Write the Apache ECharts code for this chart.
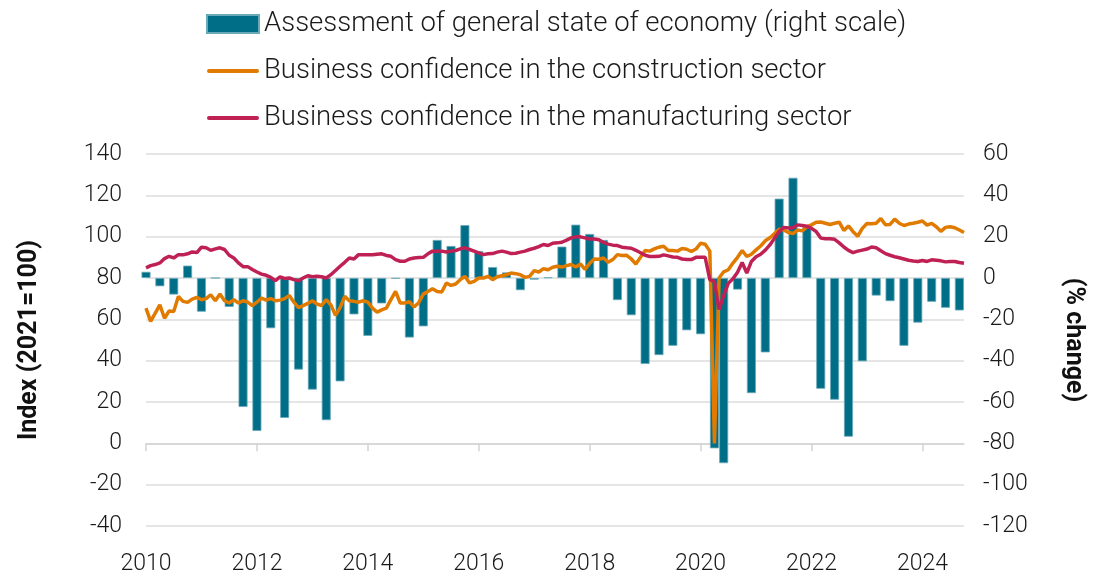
<!DOCTYPE html>
<html>
<head>
<meta charset="utf-8">
<script src="https://cdn.jsdelivr.net/npm/echarts@6/dist/echarts.min.js"></script>
<style>
  html, body { margin: 0; padding: 0; background: #fff; }
  #chart { width: 1094px; height: 576px; }
</style>
</head>
<body>
<div id="chart"></div>
<script>
// monthly series, first point = Jan 2010
const startYear = 2010
const construction = [
  65.4, 59, 63, 67, 60.5, 64, 63.8, 71.1, 68.7, 68.2, 69.8, 70.6,
  69.5, 70, 71.9, 69, 72.2, 69, 67.9, 69.5, 67.9, 69, 68.3, 66.6,
  68.3, 70.3, 69.3, 70, 69, 69.3, 70, 71.6, 68.3, 65.7, 66.6, 67.7,
  69, 67.4, 66.7, 69.5, 67, 61.9, 65.7, 71.1, 69, 68.7, 68.3, 69,
  68.3, 65.4, 63.5, 64.6, 65.4, 69.5, 73.5, 67.9, 67.9, 68.5, 66, 68,
  72.2, 73.5, 74.8, 73.5, 73.2, 77.6, 76.4, 77.1, 79.2, 80.8, 77.6, 78.4,
  80, 80, 80.8, 79.2, 80.6, 81.1, 81.6, 82.4, 82.1, 81.6, 80.3, 80.8,
  83.6, 82.9, 84.5, 84, 85.2, 85.7, 85.3, 86, 86.5, 85.3, 86.8, 84.2,
  87.1, 89.2, 89.1, 89.7, 87.6, 88.9, 91.3, 90.9, 91, 89.2, 86.8, 90,
  93.3, 93, 94.1, 94.9, 95.4, 93.3, 93.3, 93, 94.3, 93.9, 92.8, 94,
  96.8, 96.3, 93, 0, 80, 83, 84, 87.2, 90, 93.3, 90.4, 91.5,
  93.6, 95.5, 98, 99.5, 101.5, 103.6, 103.2, 102, 101.5, 103.2, 102.8, 104.8,
  105.7, 107, 107.1, 106.5, 105.9, 106.5, 107, 103, 105.2, 102.4, 100.2, 104,
  106.4, 106.2, 106.5, 108.8, 105.8, 105.9, 108.5, 106.5, 105.4, 106.1, 106.5, 107,
  107.6, 105.6, 106.4, 104.8, 102.6, 104.5, 104.8, 104.3, 103.2, 102
]
const manufacturing = [
  84.9, 86.0, 86.5, 87.3, 89.4, 90.5, 89.7, 91.3, 91.2, 91.7, 92.6, 92.3,
  94.9, 94.6, 93.4, 94.1, 94.6, 93.8, 91.0, 89.7, 87.3, 85.5, 85.5, 84.1,
  82.9, 81.9, 81.3, 80.3, 78.7, 80.5, 79.8, 80, 79.2, 78.7, 80, 81.1,
  80.6, 80.8, 80.6, 80, 81.6, 83.6, 85.7, 87.6, 89.7, 89.2, 91.3, 91.3,
  91.2, 91.2, 91.5, 91.7, 90.9, 90.5, 88.9, 88.1, 88.1, 89.2, 89.7, 89.9,
  90.0, 91.7, 93, 93, 93, 92.6, 93, 93.3, 94.1, 94.6, 93.8, 93,
  92.2, 91.3, 91.7, 91.8, 92.5, 93, 92.5, 91.8, 92, 92.5, 93, 93.8,
  94.4, 95.2, 96.2, 95.7, 96.8, 97, 97.3, 98.3, 99.4, 99.9, 99.9, 99.4,
  98.9, 98.9, 98.5, 97.2, 96.4, 95.9, 95.7, 94.9, 94.6, 94.4, 93.4, 92.2,
  91, 90.4, 90.4, 90.5, 91.2, 90.7, 90.2, 90, 89.2, 88.9, 88.9, 90,
  90, 90, 79.2, 78.2, 64.8, 71.5, 77.5, 79.6, 82.8, 87.5, 82.4, 88,
  90.3, 91.5, 93.5, 96, 99.3, 102.5, 104.5, 104.2, 104.3, 105.7, 105.4, 105,
  104, 102.5, 99.3, 99, 99, 98.7, 97, 95, 93.4, 92.3, 93, 93.5,
  94, 95, 94.6, 93.2, 91.8, 91, 90.3, 89.8, 89.2, 88.6, 88.2, 88,
  88.5, 88, 88.8, 88.6, 88.3, 87.8, 88, 88, 87.5, 87.1
]
// quarterly, Q1 2010 .. Q4 2024 (% change, right scale)
const economy = [
  3, -4, -8, 6,
  -16.3, 0, -14, -62.4,
  -74, -24.3, -67.7, -44.3,
  -54, -68.8, -50, -17.6,
  -28, -12.3, -0.3, -28.8,
  -23.4, 18.4, 15.5, 25.6,
  13, 5.3, 2.7, -5.9,
  -0.8, 0.3, 15.2, 25.8,
  21.3, 18.4, -10.7, -18,
  -41.6, -37.3, -32.8, -25.3,
  -27.2, -82.4, -89.6, -5.6,
  -55.7, -36, 38.4, 48.5,
  24.5, -53.6, -58.9, -76.8,
  -40.3, -8.5, -11.2, -32.8,
  -21.6, -11.5, -14.4, -15.7
]
// from Q3 2020 the source plots the bars one month earlier
const barShiftFrom = 42
const yearLabels = [2010, 2012, 2014, 2016, 2018, 2020, 2022, 2024]

const names = [
  'Assessment of general state of economy (right scale)',
  'Business confidence in the construction sector',
  'Business confidence in the manufacturing sector'
]
const font = 'Roboto, sans-serif'
const lineIcon = 'path://M2,0L50,0A2,2,0,0,1,50,4L2,4A2,2,0,0,1,2,0Z'

const constructionData = construction.map((v, i) => [startYear + i / 12, v])
const manufacturingData = manufacturing.map((v, i) => [startYear + i / 12, v])
const economyData = economy.map((v, q) => {
  let month = q * 3 - (q >= barShiftFrom ? 1 : 0)
  return [startYear + month / 12, v]
})

let myChart = echarts.init(document.getElementById('chart'))
let option = {
  animation: false,
  textStyle: { fontFamily: font },
  legend: {
    orient: 'vertical',
    left: 201,
    top: 5,
    itemWidth: 52,
    itemHeight: 18,
    itemGap: 19,
    textStyle: { fontFamily: font, fontSize: 27.5, fontWeight: 300, color: '#1a1a1a' },
    data: [
      { name: names[0], icon: 'rect' },
      { name: names[1], icon: lineIcon },
      { name: names[2], icon: lineIcon }
    ]
  },
  grid: { left: 146, right: 128, top: 154, bottom: 48 },
  xAxis: [
    {
      type: 'value',
      min: 2010,
      max: 2024.75,
      interval: 2,
      position: 'bottom',
      axisLine: { show: false, onZero: false },
      axisTick: { show: false },
      splitLine: { show: false },
      axisLabel: {
        customValues: yearLabels,
        formatter: v => String(v),
        margin: 27,
        fontSize: 23,
        fontWeight: 300,
        color: '#1a1a1a',
        fontFamily: font
      }
    },
    {
      type: 'value',
      min: 2010,
      max: 2024.75,
      interval: 2,
      position: 'top',
      axisLine: {
        show: true,
        onZero: true,
        onZeroAxisIndex: 0,
        lineStyle: { color: '#d4d4d4', width: 1.5 }
      },
      axisTick: {
        show: true,
        inside: true,
        length: 8,
        customValues: yearLabels,
        lineStyle: { color: '#d4d4d4', width: 1.5 }
      },
      axisLabel: { show: false },
      splitLine: { show: false }
    }
  ],
  yAxis: [
    {
      type: 'value',
      min: -40,
      max: 140,
      interval: 20,
      name: 'Index (2021=100)',
      nameLocation: 'middle',
      nameRotate: 90,
      nameGap: 104,
      nameTextStyle: { fontFamily: font, fontSize: 25, fontWeight: 'bold', color: '#111' },
      axisLine: { show: false },
      axisTick: { show: false },
      axisLabel: { margin: 24, fontSize: 23, fontWeight: 300, color: '#1a1a1a', fontFamily: font },
      splitLine: { lineStyle: { color: '#dcdcdc', width: 1.5 } }
    },
    {
      type: 'value',
      min: -120,
      max: 60,
      interval: 20,
      name: '(% change)',
      nameLocation: 'middle',
      nameRotate: -90,
      nameGap: 97,
      nameTextStyle: { fontFamily: font, fontSize: 25, fontWeight: 'bold', color: '#111' },
      axisLine: { show: false },
      axisTick: { show: false },
      axisLabel: { margin: 19, fontSize: 23, fontWeight: 300, color: '#1a1a1a', fontFamily: font },
      splitLine: { show: false }
    }
  ],
  series: [
    {
      name: names[0],
      type: 'bar',
      xAxisIndex: 0,
      yAxisIndex: 1,
      barWidth: 9,
      data: economyData,
      itemStyle: { color: '#006e87', borderColor: '#6aa9b9', borderWidth: 0.8 }
    },
    {
      name: names[1],
      type: 'line',
      xAxisIndex: 0,
      yAxisIndex: 0,
      symbol: 'none',
      data: constructionData,
      lineStyle: { color: '#e07b00', width: 3.5 },
      itemStyle: { color: '#e07b00' }
    },
    {
      name: names[2],
      type: 'line',
      xAxisIndex: 0,
      yAxisIndex: 0,
      symbol: 'none',
      data: manufacturingData,
      lineStyle: { color: '#bf2155', width: 3.5 },
      itemStyle: { color: '#bf2155' }
    }
  ]
}
myChart.setOption(option)
</script>
</body>
</html>
